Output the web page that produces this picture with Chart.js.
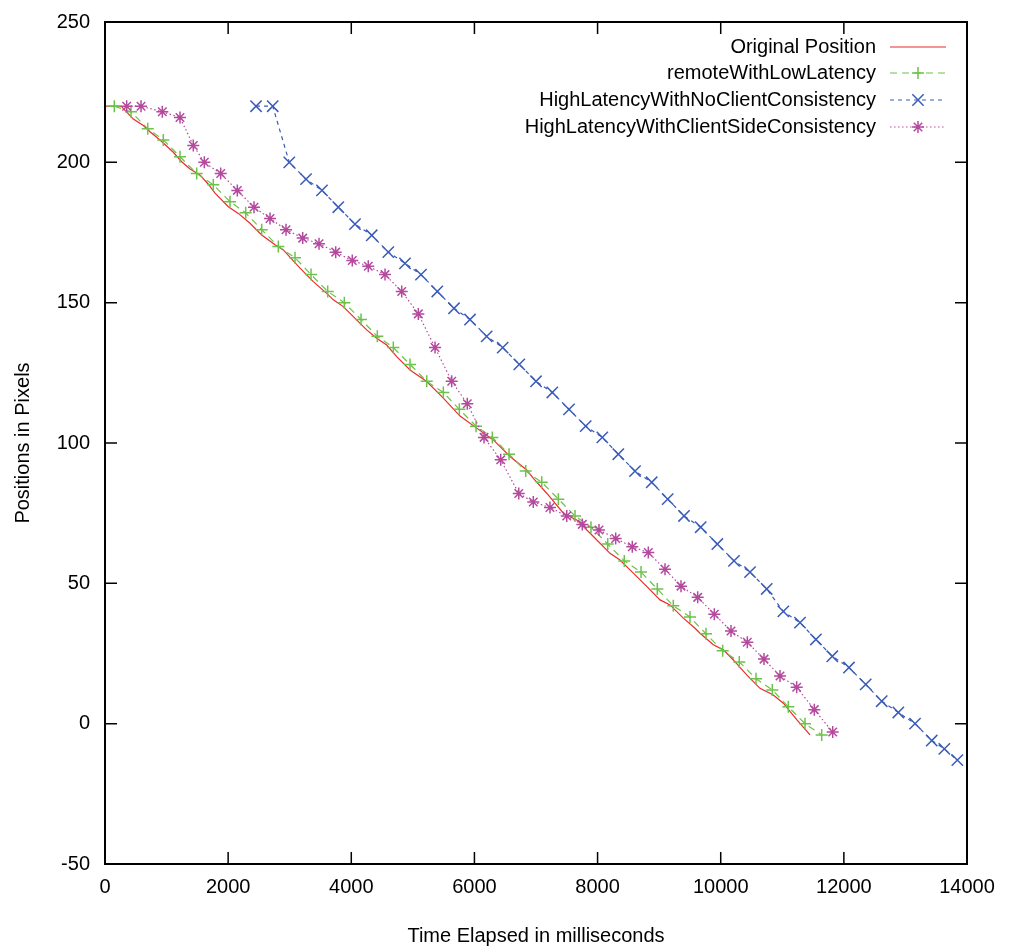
<!DOCTYPE html>
<html>
<head>
<meta charset="utf-8">
<title>Positions vs time</title>
<script src="https://cdn.jsdelivr.net/npm/chart.js@4.4.1/dist/chart.umd.min.js"></script>
<style>
    html, body { margin: 0; padding: 0; background: #ffffff; }
    #contenedor { width: 1012px; height: 950px; }
</style>
</head>
<body>
<div id="contenedor"><canvas id="grafica"></canvas></div>
<script>
// Datos (tiempo en ms, posicion en pixeles)
const tiempoOriginal = [0, 260, 460, 622, 731, 921, 1109, 1246, 1381, 1543, 1678, 1787, 2003, 2165, 2355, 2545, 2761, 2896, 3167, 3383, 3600, 3708, 3870, 4033, 4250, 4413, 4575, 4738, 4954, 5225, 5495, 5766, 6037, 6307, 6578, 6849, 6957, 7174, 7445, 7661, 7932, 8202, 8364, 8527, 8798, 9014, 9177, 9393, 9583, 9664, 9880, 10043, 10205, 10422, 10638, 10854, 11017, 11234, 11450];
const posOriginal = [220, 220, 215.4, 213.1, 210.9, 207.4, 203.6, 200.2, 197.6, 195.5, 192.2, 189, 184.2, 181.8, 178.3, 174.1, 170.6, 168.8, 162.3, 157.5, 153.3, 151, 148.6, 145, 140.3, 137.3, 134.9, 130.8, 126, 121.9, 116, 109.6, 105.3, 101.1, 95.2, 90.4, 87.4, 82.1, 75, 72.6, 66.7, 60.7, 58.3, 54.8, 48.9, 44.1, 42.3, 37.6, 34, 32.2, 28.1, 26.3, 22.7, 17.4, 12.6, 10.2, 7.3, 1.4, -4];

const tiempoBaja = [151, 422, 694, 947, 1218, 1489, 1759, 2030, 2285, 2545, 2815, 3086, 3346, 3617, 3887, 4158, 4423, 4683, 4954, 5225, 5495, 5755, 6026, 6291, 6562, 6833, 7093, 7363, 7634, 7893, 8165, 8434, 8706, 8970, 9230, 9501, 9761, 10032, 10302, 10573, 10838, 11098, 11369, 11640];
const posBaja = [220, 218, 212, 208, 202, 196, 192, 186, 182, 176, 170, 166, 160, 154, 150, 144, 138, 134, 128, 122, 118, 112, 106, 102, 96, 90, 86, 80, 74, 70, 64, 58, 54, 48, 42, 38, 32, 26, 22, 16, 12, 6, 0, -4];

const tiempoSinConsistencia = [2453, 2724, 2993, 3265, 3524, 3789, 4060, 4332, 4601, 4872, 5132, 5397, 5668, 5928, 6199, 6459, 6729, 7000, 7265, 7536, 7807, 8077, 8337, 8608, 8879, 9139, 9404, 9675, 9945, 10216, 10476, 10747, 11017, 11288, 11546, 11812, 12083, 12355, 12615, 12885, 13156, 13427, 13632, 13843];
const posSinConsistencia = [220, 220, 200, 194, 190, 184, 178, 174, 168, 164, 160, 154, 148, 144, 138, 134, 128, 122, 118, 112, 106, 102, 96, 90, 86, 80, 74, 70, 64, 58, 54, 48, 40, 36, 30, 24, 20, 14, 8, 4, 0, -6, -9, -13];

const tiempoConConsistencia = [352, 585, 931, 1218, 1434, 1613, 1879, 2149, 2420, 2680, 2940, 3211, 3476, 3747, 4016, 4276, 4548, 4819, 5089, 5360, 5631, 5884, 6156, 6427, 6720, 6956, 7227, 7499, 7752, 8023, 8294, 8564, 8824, 9095, 9355, 9626, 9896, 10167, 10432, 10703, 10963, 11234, 11520, 11819];
const posConConsistencia = [220, 220, 218, 216, 206, 200, 196, 190, 184, 180, 176, 173, 171, 168, 165, 163, 160, 154, 146, 134, 122, 114, 102, 94, 82, 79, 77, 74, 71, 69, 66, 63, 61, 55, 49, 45, 39, 33, 29, 23, 17, 13, 5, -3];

const marcasX = [0, 2000, 4000, 6000, 8000, 10000, 12000, 14000];
const marcasY = [-50, 0, 50, 100, 150, 200, 250];

const fuente = "'Liberation Sans', Arial, sans-serif";

function unirPuntos(xs, ys) {
    return xs.map((x, i) => ({ x: x, y: ys[i] }));
}

function generarSerie(label, xs, ys, color, dash, estilo, radio, orden) {
    return {
        label,
        data: unirPuntos(xs, ys),
        showLine: true,
        borderColor: color,
        backgroundColor: color,
        borderWidth: 1.2,
        borderDash: dash,
        pointStyle: estilo,
        pointRadius: radio,
        pointHoverRadius: radio,
        pointBorderWidth: 1.5,
        pointBorderColor: color,
        tension: 0,
        order: orden
    };
}

// Marco negro con las marcas hacia adentro, como en gnuplot
const marcoPlugin = {
    id: "marco",
    afterDatasetsDraw(chart) {
        const { ctx, chartArea: a, scales } = chart;
        ctx.save();
        ctx.strokeStyle = "#000000";
        ctx.lineWidth = 1.5;
        ctx.beginPath();
        marcasX.forEach(v => {
            const px = scales.x.getPixelForValue(v);
            ctx.moveTo(px, a.bottom); ctx.lineTo(px, a.bottom - 12);
            ctx.moveTo(px, a.top); ctx.lineTo(px, a.top + 12);
        });
        marcasY.forEach(v => {
            const py = scales.y.getPixelForValue(v);
            ctx.moveTo(a.left, py); ctx.lineTo(a.left + 12, py);
            ctx.moveTo(a.right, py); ctx.lineTo(a.right - 12, py);
        });
        ctx.stroke();
        ctx.lineWidth = 2;
        ctx.strokeRect(a.left, a.top, a.right - a.left, a.bottom - a.top);
        ctx.restore();
    }
};

// Leyenda dentro del grafico, texto alineado a la derecha y muestra de linea
const leyendaPlugin = {
    id: "leyendaGnuplot",
    afterDraw(chart) {
        const { ctx, chartArea: a } = chart;
        const xTexto = a.right - 91;
        const x1 = a.right - 77, x2 = a.right - 21;
        const filas = [47, 73, 100, 127];
        ctx.save();
        ctx.font = "20px " + fuente;
        ctx.textAlign = "right";
        ctx.textBaseline = "middle";
        chart.data.datasets.forEach((ds, i) => {
            const y = filas[i];
            ctx.fillStyle = "#000000";
            ctx.fillText(ds.label, xTexto, y);
            ctx.strokeStyle = ds.borderColor;
            ctx.lineWidth = 1.2;
            ctx.setLineDash(ds.borderDash || []);
            ctx.beginPath();
            ctx.moveTo(x1, y); ctx.lineTo(x2, y);
            ctx.stroke();
            ctx.setLineDash([]);
            if (ds.pointStyle) {
                ctx.fillStyle = ds.borderColor;
                ctx.lineWidth = 1.5;
                Chart.helpers.drawPoint(ctx, {
                    pointStyle: ds.pointStyle, radius: ds.pointRadius, rotation: 0, borderWidth: 1.5
                }, (x1 + x2) / 2, y);
            }
        });
        ctx.restore();
    }
};

function cargarGrafico() {
    const ctx = document.getElementById("grafica").getContext("2d");
    new Chart(ctx, {
        type: "scatter",
        data: {
            datasets: [
                generarSerie("Original Position", tiempoOriginal, posOriginal, "#ee2b2b", [], false, 0, 4),
                generarSerie("remoteWithLowLatency", tiempoBaja, posBaja, "#6cc24a", [7, 5], "cross", 6, 3),
                generarSerie("HighLatencyWithNoClientConsistency", tiempoSinConsistencia, posSinConsistencia, "#3a5cb8", [4, 4], "crossRot", 8, 2),
                generarSerie("HighLatencyWithClientSideConsistency", tiempoConConsistencia, posConConsistencia, "#b44a9e", [1.5, 2.5], "star", 6, 1)
            ]
        },
        options: {
            responsive: false,
            animation: false,
            layout: { padding: { left: 0, right: 45, top: 22, bottom: 0 } },
            plugins: { legend: { display: false }, tooltip: { enabled: false } },
            scales: {
                x: {
                    type: "linear",
                    min: 0, max: 14000,
                    afterBuildTicks: s => { s.ticks = marcasX.map(v => ({ value: v })); },
                    afterFit: s => { s.height = 86; },
                    grid: { display: false },
                    border: { display: false },
                    ticks: { color: "#000000", padding: 3, maxRotation: 0, callback: v => String(v), font: { family: fuente, size: 20 } },
                    title: { display: true, text: "Time Elapsed in milliseconds", color: "#000000", padding: { top: 0, bottom: 2 }, font: { family: fuente, size: 20 } }
                },
                y: {
                    type: "linear",
                    min: -50, max: 250,
                    afterBuildTicks: s => { s.ticks = marcasY.map(v => ({ value: v })); },
                    afterFit: s => { s.width = 105; },
                    grid: { display: false },
                    border: { display: false },
                    ticks: { color: "#000000", padding: 7, callback: v => String(v), font: { family: fuente, size: 20 } },
                    title: { display: true, text: "Positions in Pixels", color: "#000000", padding: { top: 11, bottom: 0 }, font: { family: fuente, size: 20 } }
                }
            }
        },
        plugins: [marcoPlugin, leyendaPlugin]
    });
}

document.addEventListener("DOMContentLoaded", () => {
    const canvas = document.getElementById("grafica");
    canvas.width = 1012;
    canvas.height = 950;
    cargarGrafico();
});
</script>
</body>
</html>
